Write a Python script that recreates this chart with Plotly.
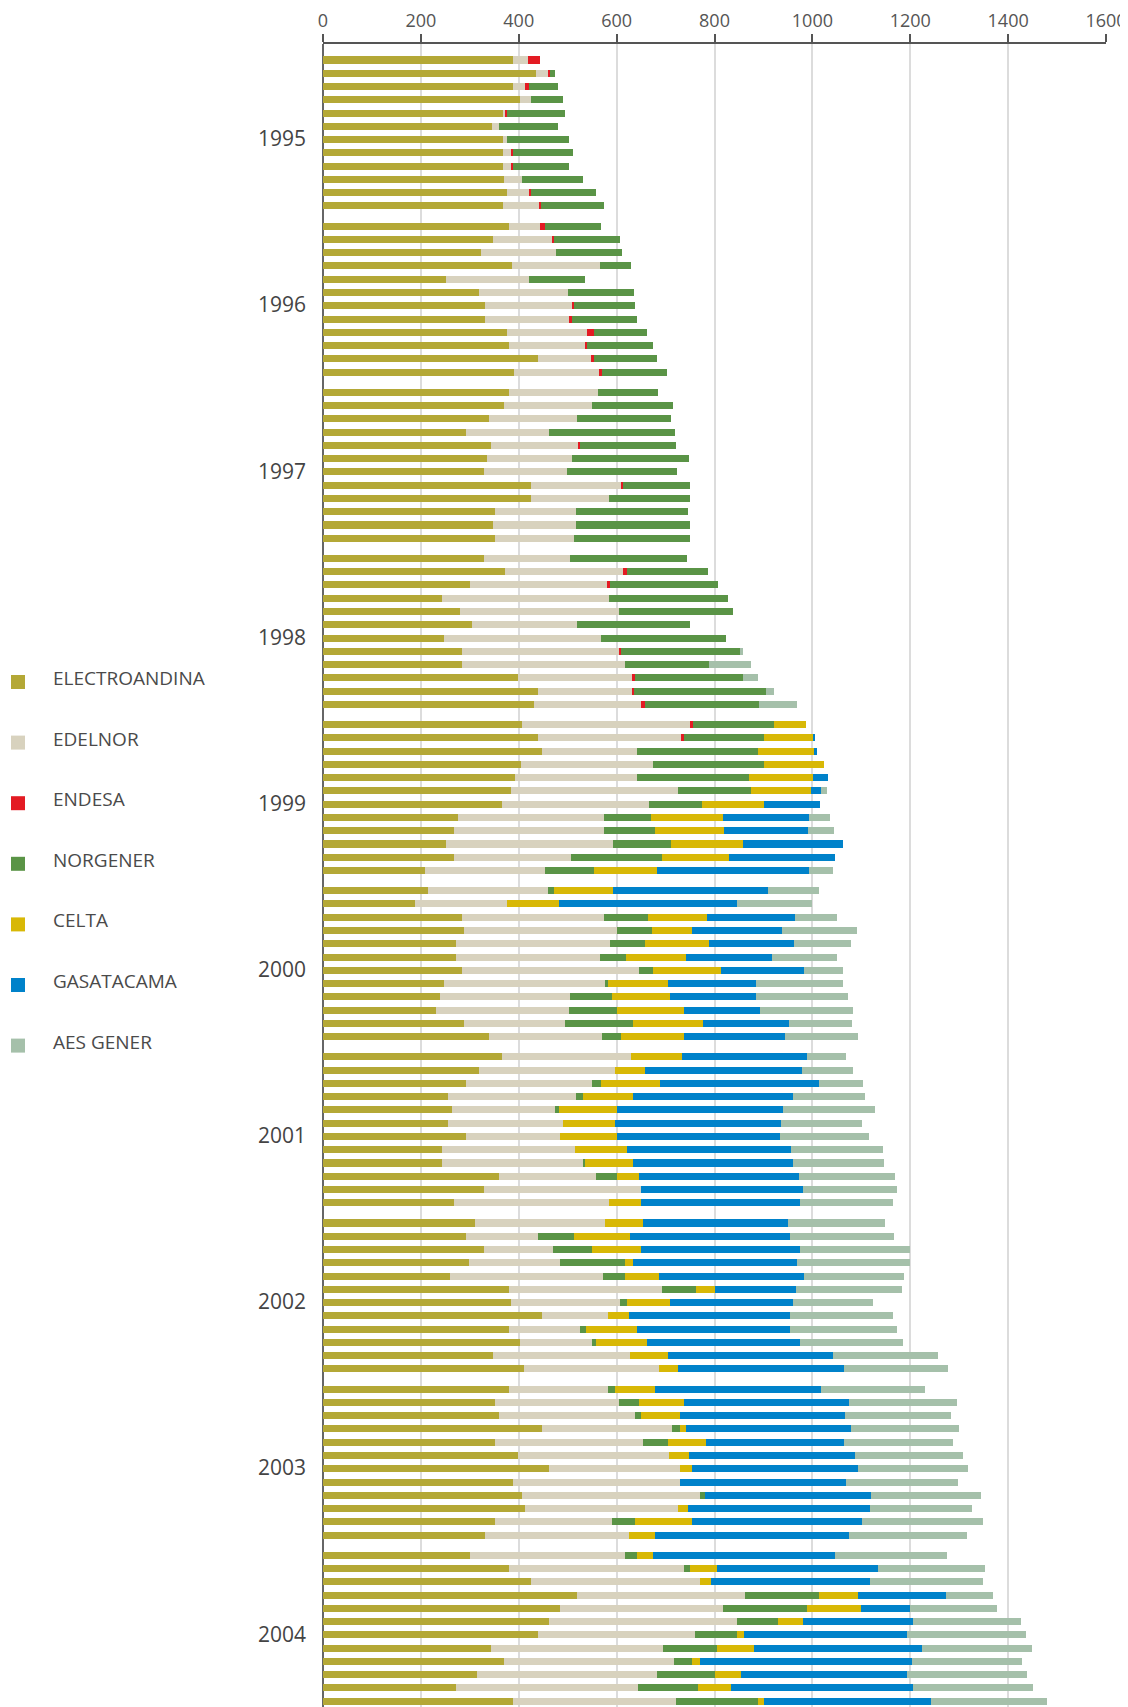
import plotly.graph_objects as go

years = ["1995", "1996", "1997", "1998", "1999", "2000", "2001", "2002", "2003", "2004"]
series = ["ELECTROANDINA", "EDELNOR", "ENDESA", "NORGENER", "CELTA", "GASATACAMA", "AES GENER"]
colors = ["#B4A836", "#D8D2BE", "#E31B23", "#5A9446", "#D8B806", "#0082CA", "#A5C0AA"]

# monthly values, one row per year (Jan..Dec)
electroandina = [
    389, 435, 389, 402, 367, 346, 367, 367, 367, 369, 376, 367,
    381, 348, 323, 387, 251, 319, 332, 332, 376, 381, 440, 391,
    381, 369, 340, 293, 344, 336, 328, 424, 424, 352, 348, 352,
    328, 372, 301, 243, 280, 305, 247, 284, 284, 398, 440, 432,
    407, 440, 448, 404, 393, 385, 365, 276, 268, 251, 268, 209,
    214, 188, 284, 289, 272, 272, 284, 247, 240, 231, 289, 340,
    365, 319, 293, 256, 264, 256, 293, 243, 243, 360, 328, 268,
    311, 293, 328, 299, 260, 381, 385, 448, 381, 402, 348, 411,
    381, 352, 360, 448, 352, 398, 461, 389, 407, 413, 352, 332,
    301, 381, 424, 520, 485, 461, 440, 344, 369, 315, 272, 389,
]
edelnor = [
    29, 26, 24, 24, 6, 14, 10, 18, 18, 37, 46, 76,
    63, 120, 154, 178, 169, 182, 178, 170, 164, 155, 109, 175,
    180, 180, 178, 168, 178, 173, 170, 186, 160, 164, 168, 160,
    176, 240, 281, 342, 324, 215, 322, 322, 333, 235, 192, 217,
    342, 293, 193, 271, 248, 340, 301, 299, 306, 342, 239, 244,
    246, 188, 291, 311, 315, 293, 361, 330, 264, 271, 205, 230,
    264, 277, 256, 260, 210, 234, 192, 271, 289, 197, 321, 316,
    266, 147, 141, 186, 313, 311, 221, 134, 144, 147, 280, 275,
    201, 252, 277, 265, 302, 308, 269, 340, 363, 312, 238, 293,
    316, 356, 346, 342, 333, 385, 320, 350, 348, 367, 372, 332,
]
endesa = [
    26, 3, 7, 0, 4, 0, 0, 4, 4, 0, 4, 2,
    9, 5, 0, 0, 0, 0, 2, 7, 13, 4, 4, 4,
    0, 0, 0, 0, 3, 0, 0, 2, 0, 0, 0, 0,
    0, 9, 4, 0, 0, 0, 0, 2, 0, 4, 4, 9,
    8, 4, 0, 0, 0, 0, 0, 0, 0, 0, 0, 0,
    0, 0, 0, 0, 0, 0, 0, 0, 0, 0, 0, 0,
    0, 0, 0, 0, 0, 0, 0, 0, 0, 0, 0, 0,
    0, 0, 0, 0, 0, 0, 0, 0, 0, 0, 0, 0,
    0, 0, 0, 0, 0, 0, 0, 0, 0, 0, 0, 0,
    0, 0, 0, 0, 0, 0, 0, 0, 0, 0, 0, 0,
]
norgener = [
    0, 10, 61, 64, 117, 121, 125, 121, 113, 125, 131, 129,
    116, 133, 133, 65, 116, 134, 125, 133, 109, 134, 129, 133,
    124, 166, 193, 258, 196, 238, 226, 138, 166, 230, 234, 238,
    239, 166, 221, 242, 234, 230, 254, 246, 172, 222, 270, 232,
    165, 164, 248, 227, 230, 149, 109, 95, 105, 119, 186, 100,
    13, 0, 90, 72, 70, 55, 29, 5, 86, 99, 140, 39,
    0, 0, 20, 16, 8, 0, 0, 0, 4, 44, 0, 0,
    0, 72, 81, 132, 44, 70, 15, 0, 12, 8, 0, 0,
    15, 41, 12, 16, 51, 0, 0, 0, 11, 0, 48, 0,
    24, 13, 0, 152, 172, 84, 85, 111, 37, 119, 123, 167,
]
celta = [
    0, 0, 0, 0, 0, 0, 0, 0, 0, 0, 0, 0,
    0, 0, 0, 0, 0, 0, 0, 0, 0, 0, 0, 0,
    0, 0, 0, 0, 0, 0, 0, 0, 0, 0, 0, 0,
    0, 0, 0, 0, 0, 0, 0, 0, 0, 0, 0, 0,
    65, 101, 116, 121, 131, 123, 127, 147, 140, 146, 137, 129,
    120, 107, 119, 81, 131, 121, 140, 123, 119, 137, 143, 129,
    105, 61, 119, 101, 119, 107, 115, 107, 97, 45, 0, 65,
    77, 116, 100, 16, 69, 39, 88, 43, 105, 105, 77, 40,
    81, 92, 81, 13, 78, 41, 24, 0, 0, 20, 116, 53,
    33, 55, 22, 80, 109, 51, 16, 76, 16, 53, 66, 14,
]
gasatacama = [
    0, 0, 0, 0, 0, 0, 0, 0, 0, 0, 0, 0,
    0, 0, 0, 0, 0, 0, 0, 0, 0, 0, 0, 0,
    0, 0, 0, 0, 0, 0, 0, 0, 0, 0, 0, 0,
    0, 0, 0, 0, 0, 0, 0, 0, 0, 0, 0, 0,
    0, 4, 4, 0, 29, 20, 113, 176, 172, 205, 217, 311,
    316, 363, 180, 184, 175, 176, 168, 179, 176, 154, 175, 206,
    256, 322, 326, 328, 338, 338, 334, 336, 328, 326, 331, 326,
    297, 326, 324, 336, 296, 166, 252, 330, 313, 313, 338, 338,
    340, 337, 336, 336, 282, 340, 340, 340, 338, 372, 348, 396,
    372, 330, 326, 180, 101, 225, 333, 342, 433, 340, 372, 340,
]
aes_gener = [
    0, 0, 0, 0, 0, 0, 0, 0, 0, 0, 0, 0,
    0, 0, 0, 0, 0, 0, 0, 0, 0, 0, 0, 0,
    0, 0, 0, 0, 0, 0, 0, 0, 0, 0, 0, 0,
    0, 0, 0, 0, 0, 0, 0, 4, 86, 29, 16, 78,
    0, 0, 0, 0, 0, 13, 0, 42, 53, 0, 0, 49,
    105, 153, 86, 154, 116, 134, 81, 178, 187, 192, 129, 149,
    79, 104, 90, 146, 189, 166, 182, 187, 186, 197, 192, 189,
    197, 213, 226, 230, 205, 217, 162, 210, 217, 210, 213, 213,
    213, 221, 217, 221, 222, 221, 225, 229, 226, 210, 246, 242,
    230, 217, 230, 96, 178, 221, 242, 226, 225, 245, 246, 237,
]

values = [electroandina, edelnor, endesa, norgener, celta, gasatacama, aes_gener]

# the page body has an 8px margin, so everything is laid out 8px up/left
OFF = 8
W, H = 1128 - OFF, 1707 - OFF
ML, MR, MT, MB = 323 - OFF, 22, 44 - OFF, 0
GROUP = 12.52      # rows per year incl. gap
PX = 13.27         # pixels per row
ypos = [g * GROUP + m for g in range(len(years)) for m in range(12)]
y_top = -(60 - 44) / PX
y_bot = y_top + (H - MT - MB) / PX

fig = go.Figure()
for name, col, vals in zip(series, colors, values):
    fig.add_trace(go.Bar(
        x=vals, y=ypos, orientation="h", name=name,
        width=0.53, marker=dict(color=col, line=dict(width=0)),
        showlegend=False,
    ))

font = "Open Sans, Lato, sans-serif"
pw = W - ML - MR
ph = H - MT - MB

def px_x(x):
    return (x - OFF - ML) / pw

def px_y(y):
    return 1 - (y - OFF - MT) / ph

annotations = []
for g, yr in enumerate(years):
    annotations.append(dict(
        text=yr, xref="paper", yref="y", x=px_x(308), y=g * GROUP + 5.9,
        xanchor="right", yanchor="middle", showarrow=False,
        font=dict(family=font, size=21, color="#444444"),
    ))

# hand-drawn legend on the left
shapes = []
for i, (name, col) in enumerate(zip(series, colors)):
    cy = 682 + i * 60.6
    shapes.append(dict(
        type="rect", xref="paper", yref="paper",
        x0=px_x(11), x1=px_x(25), y0=px_y(cy + 7), y1=px_y(cy - 7),
        fillcolor=col, line=dict(width=0), layer="above",
    ))
    annotations.append(dict(
        text=name, xref="paper", yref="paper",
        x=px_x(51), y=px_y(cy - 4),
        xanchor="left", yanchor="middle", showarrow=False,
        font=dict(family=font, size=19, color="#4a4a4a"),
    ))

fig.update_layout(
    width=W, height=H,
    margin=dict(l=ML, r=MR, t=MT, b=MB, autoexpand=False),
    barmode="stack", bargap=0,
    plot_bgcolor="white", paper_bgcolor="white",
    annotations=annotations, shapes=shapes,
    xaxis=dict(
        side="top", range=[0, 1600], dtick=200,
        showgrid=True, gridcolor="#dcdcdc", gridwidth=1.5,
        zeroline=True, zerolinecolor="#666666", zerolinewidth=2,
        showline=True, linecolor="#555555", linewidth=1.5,
        ticks="outside", ticklen=8, tickcolor="#555555", tickwidth=1.5,
        tickfont=dict(family=font, size=18, color="#555555"),
        fixedrange=True,
    ),
    yaxis=dict(
        range=[y_bot, y_top], showticklabels=False, showgrid=False,
        zeroline=False, showline=False, ticks="", fixedrange=True,
    ),
)

fig.write_html("out.html", config={"displayModeBar": False})
